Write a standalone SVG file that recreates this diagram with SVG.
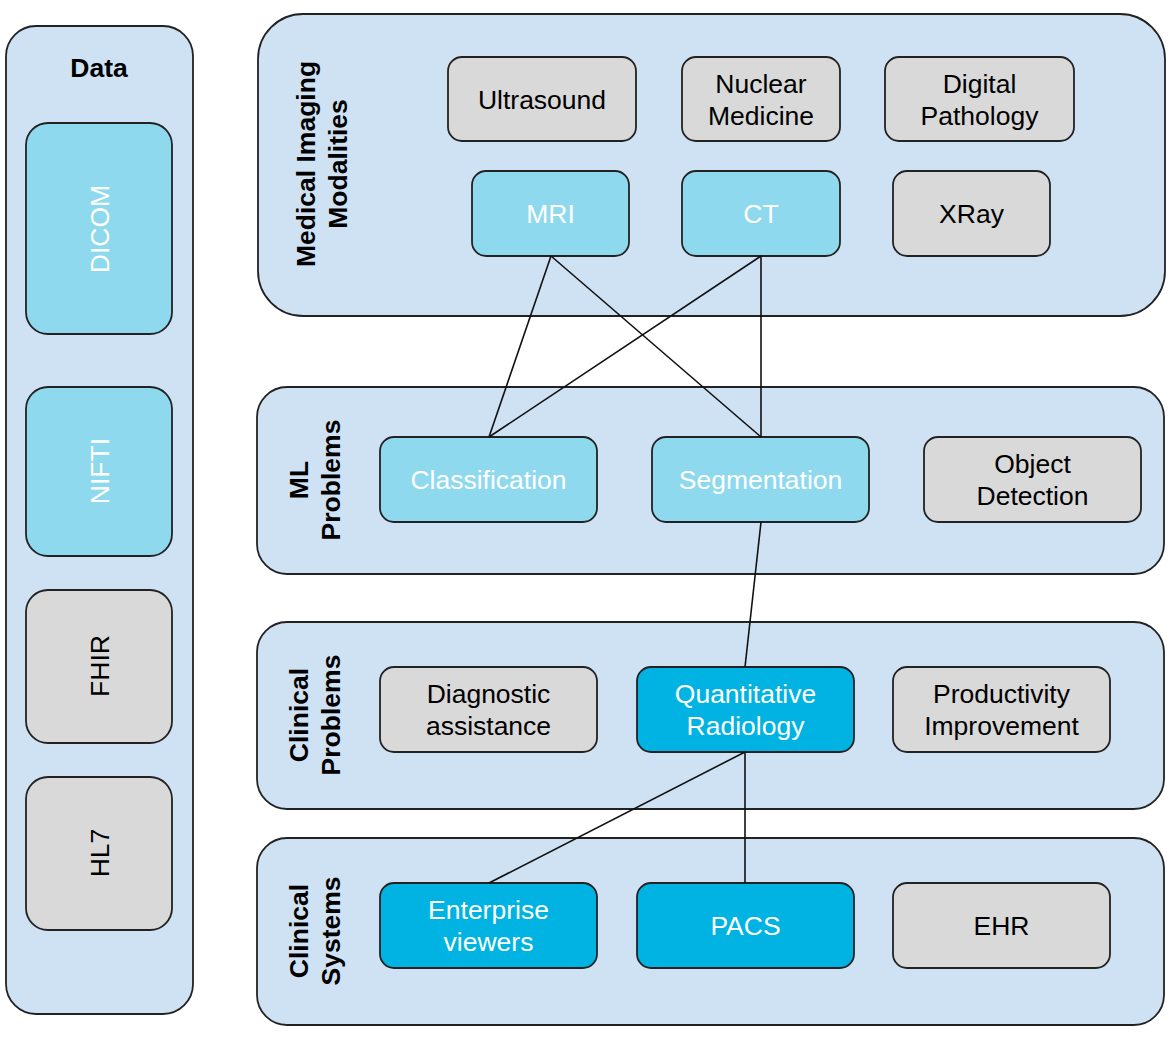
<svg xmlns="http://www.w3.org/2000/svg" width="1173" height="1037" viewBox="0 0 1173 1037">
<style>
.panel{fill:#cfe2f3;stroke:#222;stroke-width:1.8}
.node{stroke:#222;stroke-width:1.8}
.gray{fill:#d9d9d9}
.lite{fill:#8fd9ee}
.deep{fill:#00b3e3}
text{font-family:"Liberation Sans",Arial,sans-serif;font-size:26.5px;text-anchor:middle}
.dark{fill:#000}
.white{fill:#fff}
.bold{font-weight:bold}
.conn line{stroke:#111;stroke-width:1.6}
</style>
<rect width="1173" height="1037" fill="#fff"/>
<g id="panel-data"><rect class="panel" x="6" y="26" width="187" height="988" rx="30"/><text class="dark bold" x="99" y="77">Data</text></g>
<g id="dicom"><rect class="node lite" x="26" y="123" width="146" height="211" rx="22"/><text class="white" transform="translate(109,229) rotate(-90)">DICOM</text></g>
<g id="nifti"><rect class="node lite" x="26" y="387" width="146" height="169" rx="22"/><text class="white" transform="translate(109,471) rotate(-90)">NIFTI</text></g>
<g id="fhir"><rect class="node gray" x="26" y="590" width="146" height="153" rx="22"/><text class="dark" transform="translate(109,666) rotate(-90)">FHIR</text></g>
<g id="hl7"><rect class="node gray" x="26" y="777" width="146" height="153" rx="22"/><text class="dark" transform="translate(109,853) rotate(-90)">HL7</text></g>

<g id="panel-modalities"><rect class="panel" x="258" y="14" width="907" height="302" rx="45"/>
<text class="dark bold" transform="translate(315,164) rotate(-90)">Medical Imaging</text>
<text class="dark bold" transform="translate(347,164) rotate(-90)">Modalities</text></g>
<g id="panel-ml"><rect class="panel" x="257" y="387" width="907" height="187" rx="30"/>
<text class="dark bold" transform="translate(308,480) rotate(-90)">ML</text>
<text class="dark bold" transform="translate(340,480) rotate(-90)">Problems</text></g>
<g id="panel-clinical-problems"><rect class="panel" x="257" y="622" width="907" height="187" rx="30"/>
<text class="dark bold" transform="translate(308,715) rotate(-90)">Clinical</text>
<text class="dark bold" transform="translate(340,715) rotate(-90)">Problems</text></g>
<g id="panel-clinical-systems"><rect class="panel" x="257" y="838" width="907" height="187" rx="30"/>
<text class="dark bold" transform="translate(308,931) rotate(-90)">Clinical</text>
<text class="dark bold" transform="translate(340,931) rotate(-90)">Systems</text></g>

<g id="ultrasound"><rect class="node gray" x="448" y="57" width="188" height="84" rx="14"/><text class="dark" x="542" y="108.5">Ultrasound</text></g>
<g id="nuclear"><rect class="node gray" x="682" y="57" width="158" height="84" rx="14"/><text class="dark" x="761" y="92.5">Nuclear</text><text class="dark" x="761" y="124.5">Medicine</text></g>
<g id="pathology"><rect class="node gray" x="885" y="57" width="189" height="84" rx="14"/><text class="dark" x="979.5" y="92.5">Digital</text><text class="dark" x="979.5" y="124.5">Pathology</text></g>
<g id="mri"><rect class="node lite" x="472" y="171" width="157" height="85" rx="14"/><text class="white" x="550.5" y="223">MRI</text></g>
<g id="ct"><rect class="node lite" x="682" y="171" width="158" height="85" rx="14"/><text class="white" x="761" y="223">CT</text></g>
<g id="xray"><rect class="node gray" x="893" y="171" width="157" height="85" rx="14"/><text class="dark" x="971.5" y="223">XRay</text></g>

<g id="classification"><rect class="node lite" x="380" y="437" width="217" height="85" rx="14"/><text class="white" x="488.5" y="489">Classification</text></g>
<g id="segmentation"><rect class="node lite" x="652" y="437" width="217" height="85" rx="14"/><text class="white" x="760.5" y="489">Segmentation</text></g>
<g id="object-detection"><rect class="node gray" x="924" y="437" width="217" height="85" rx="14"/><text class="dark" x="1032.5" y="473">Object</text><text class="dark" x="1032.5" y="505">Detection</text></g>

<g id="diagnostic"><rect class="node gray" x="380" y="667" width="217" height="85" rx="14"/><text class="dark" x="488.5" y="703">Diagnostic</text><text class="dark" x="488.5" y="735">assistance</text></g>
<g id="quantitative"><rect class="node deep" x="637" y="667" width="217" height="85" rx="14"/><text class="white" x="745.5" y="703">Quantitative</text><text class="white" x="745.5" y="735">Radiology</text></g>
<g id="productivity"><rect class="node gray" x="893" y="667" width="217" height="85" rx="14"/><text class="dark" x="1001.5" y="703">Productivity</text><text class="dark" x="1001.5" y="735">Improvement</text></g>

<g id="enterprise"><rect class="node deep" x="380" y="883" width="217" height="85" rx="14"/><text class="white" x="488.5" y="919">Enterprise</text><text class="white" x="488.5" y="951">viewers</text></g>
<g id="pacs"><rect class="node deep" x="637" y="883" width="217" height="85" rx="14"/><text class="white" x="745.5" y="935">PACS</text></g>
<g id="ehr"><rect class="node gray" x="893" y="883" width="217" height="85" rx="14"/><text class="dark" x="1001.5" y="935">EHR</text></g>

<g class="conn" id="connectors">
<line x1="551" y1="256" x2="489" y2="437"/>
<line x1="551" y1="256" x2="761" y2="437"/>
<line x1="761" y1="256" x2="489" y2="437"/>
<line x1="761" y1="256" x2="761" y2="437"/>
<line x1="761" y1="522" x2="745" y2="667"/>
<line x1="745" y1="752" x2="489" y2="883"/>
<line x1="745" y1="752" x2="745" y2="883"/>
</g>
</svg>
